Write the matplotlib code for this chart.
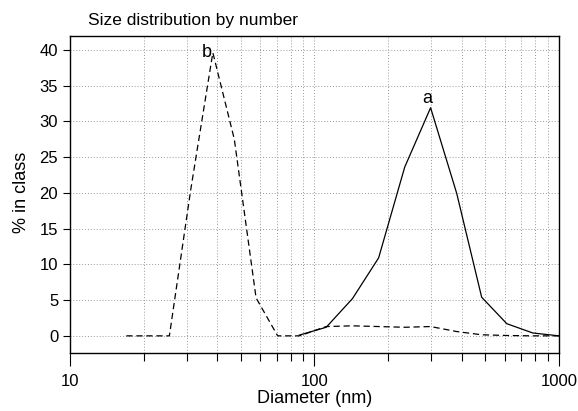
import matplotlib
matplotlib.use("Agg")
import matplotlib.pyplot as plt
from matplotlib.ticker import LogLocator, NullFormatter, FixedLocator

plt.rcParams['font.family'] = ['Liberation Sans', 'DejaVu Sans']

# sample a (solid)
a_diam = [86.7, 111.7, 143, 183, 234, 298.6, 382, 483, 612, 782, 1000]
a_pct = [0.1, 1.2, 5.2, 10.9, 23.6, 31.9, 19.9, 5.4, 1.7, 0.4, 0.0]

# sample b (dashed)
b_diam = [17.0, 20.8, 25.5, 31.2, 38.4, 47.0, 57.7, 70.7, 86.7, 111.7, 143, 183,
          234, 298.6, 382, 483, 612, 782, 1000]
b_pct = [0.0, 0.0, 0.0, 20.5, 39.6, 27.5, 5.3, 0.0, 0.0, 1.3, 1.4, 1.3,
         1.2, 1.3, 0.6, 0.15, 0.05, 0.0, 0.0]

x_ticks = [10, 100, 1000]
y_ticks = [0, 5, 10, 15, 20, 25, 30, 35, 40]

fig = plt.figure(figsize=(5.78, 4.11), dpi=100)
ax = fig.add_axes([0.1211, 0.1411, 0.967 - 0.1211, 0.9136 - 0.1411])

ax.plot(a_diam, a_pct, color="black", lw=0.9)
ax.plot(b_diam, b_pct, color="black", lw=0.9, dashes=(5, 3))

ax.set_xscale("log")
ax.set_xlim(10, 1000)
ax.set_ylim(-2.4, 42)
ax.xaxis.set_major_locator(FixedLocator(x_ticks))
ax.set_xticklabels([str(t) for t in x_ticks])
ax.xaxis.set_minor_locator(LogLocator(base=10, subs=range(2, 10)))
ax.xaxis.set_minor_formatter(NullFormatter())
ax.set_yticks(y_ticks)

ax.grid(True, which="major", axis="both", color="#999999", ls=(0, (1, 2)), lw=0.7)
ax.grid(True, which="minor", axis="x", color="#999999", ls=(0, (1, 2)), lw=0.7)

ax.tick_params(axis="x", which="major", direction="out", length=9, width=0.8, labelsize=12, pad=6)
ax.tick_params(axis="x", which="minor", direction="out", length=6, width=0.8)
ax.tick_params(axis="y", which="major", direction="out", length=5, width=0.8, labelsize=12)
for s in ax.spines.values():
    s.set_linewidth(1.0)

ax.text(290, 32.0, "a", ha="center", va="bottom", fontsize=13)
ax.text(36.2, 39.6, "b", ha="center", va="center", fontsize=13)

fig.text((70 + 559) / 2 / 578, 1 - 398 / 411, "Diameter (nm)", fontsize=13, ha="center", va="center")
fig.text(22 / 578, 1 - 192 / 411, "% in class", fontsize=13, ha="center", va="center", rotation=90)
fig.text(88 / 578, 1 - 20 / 411, "Size distribution by number", fontsize=12.5, ha="left", va="center")

fig.savefig("out.png", dpi=100)
